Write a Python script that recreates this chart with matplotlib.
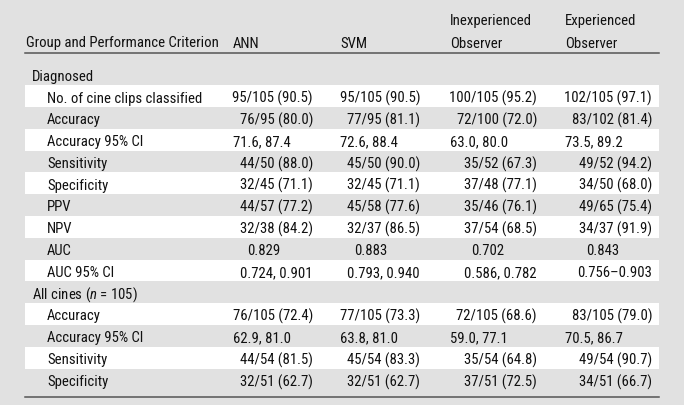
import matplotlib
matplotlib.use("Agg")
from matplotlib import pyplot as plt
from matplotlib.patches import Rectangle

plt.rcParams['font.family'] = ['Roboto Condensed', 'DejaVu Sans']
plt.rcParams['mathtext.fontset'] = 'custom'
plt.rcParams['mathtext.rm'] = 'Roboto Condensed'
plt.rcParams['mathtext.it'] = 'Roboto Condensed:italic'

headers = ['ANN', 'SVM', 'Inexperienced\nObserver', 'Experienced\nObserver']
first_header = 'Group and Performance Criterion'

group1 = 'Diagnosed'
labels1 = ['No. of cine clips classified', 'Accuracy', 'Accuracy 95% CI', 'Sensitivity',
           'Specificity', 'PPV', 'NPV', 'AUC', 'AUC 95% CI']
ann1 = ['95/105 (90.5)', '76/95 (80.0)', '71.6, 87.4', '44/50 (88.0)', '32/45 (71.1)',
        '44/57 (77.2)', '32/38 (84.2)', '0.829', '0.724, 0.901']
svm1 = ['95/105 (90.5)', '77/95 (81.1)', '72.6, 88.4', '45/50 (90.0)', '32/45 (71.1)',
        '45/58 (77.6)', '32/37 (86.5)', '0.883', '0.793, 0.940']
inexp1 = ['100/105 (95.2)', '72/100 (72.0)', '63.0, 80.0', '35/52 (67.3)', '37/48 (77.1)',
          '35/46 (76.1)', '37/54 (68.5)', '0.702', '0.586, 0.782']
exp1 = ['102/105 (97.1)', '83/102 (81.4)', '73.5, 89.2', '49/52 (94.2)', '34/50 (68.0)',
        '49/65 (75.4)', '34/37 (91.9)', '0.843', '0.756\u20130.903']

group2 = 'All cines ($\\mathit{n}$ = 105)'
labels2 = ['Accuracy', 'Accuracy 95% CI', 'Sensitivity', 'Specificity']
ann2 = ['76/105 (72.4)', '62.9, 81.0', '44/54 (81.5)', '32/51 (62.7)']
svm2 = ['77/105 (73.3)', '63.8, 81.0', '45/54 (83.3)', '32/51 (62.7)']
inexp2 = ['72/105 (68.6)', '59.0, 77.1', '35/54 (64.8)', '37/51 (72.5)']
exp2 = ['83/105 (79.0)', '70.5, 86.7', '49/54 (90.7)', '34/51 (66.7)']

# layout (pixels)
W, H = 684, 406
bg = '#e1e1e1'
txt = '#111111'
col_left = [233, 340, 450, 565]
col_right = [313, 420, 537, 652]
x0, x1 = 25, 659
row_h = 21.8
y_first = 75.2
dy = 1.5  # text sits a bit lower than the row centre
fs = 10.6

fig = plt.figure(figsize=(W / 100, H / 100), dpi=100, facecolor=bg)
ax = fig.add_axes([0, 0, 1, 1])
ax.set_xlim(0, W)
ax.set_ylim(H, 0)
ax.axis('off')


def put(x, y, s, ha='left'):
    ax.text(x, y + dy, s, fontsize=fs, color=txt, va='center', ha=ha)


# header
put(26, 42, first_header)
for i, h in enumerate(headers):
    if '\n' in h:
        a, b = h.split('\n')
        put(col_left[i], 20, a)
        put(col_left[i], 42, b)
    else:
        put(col_left[i], 42, h)
ax.plot([x0, x1], [54, 54], color='#555555', lw=1.1)


def draw_cell(s, label, y, c):
    if 'CI' in label and 'AUC' not in label:
        put(col_left[c], y, s)
    elif label == 'AUC':
        put(col_right[c] - 33, y, s, ha='right')
    else:
        put(col_right[c], y, s, ha='right')


sections = [(group1, labels1, [ann1, svm1, inexp1, exp1]),
            (group2, labels2, [ann2, svm2, inexp2, exp2])]
r = 0
for group, labels, cols in sections:
    y = y_first + r * row_h
    put(32, y, group)
    r += 1
    for j, lab in enumerate(labels):
        y = y_first + r * row_h
        if j % 2 == 0:
            ax.add_patch(Rectangle((x0, y - row_h / 2), x1 - x0, row_h,
                                   facecolor='white', edgecolor='none', zorder=0))
        put(47, y, lab)
        for c, vals in enumerate(cols):
            draw_cell(vals[j], lab, y, c)
        r += 1

ax.plot([x0, x1], [398, 398], color='#555555', lw=1.1)

fig.savefig('out.png', dpi=100, facecolor=bg)
